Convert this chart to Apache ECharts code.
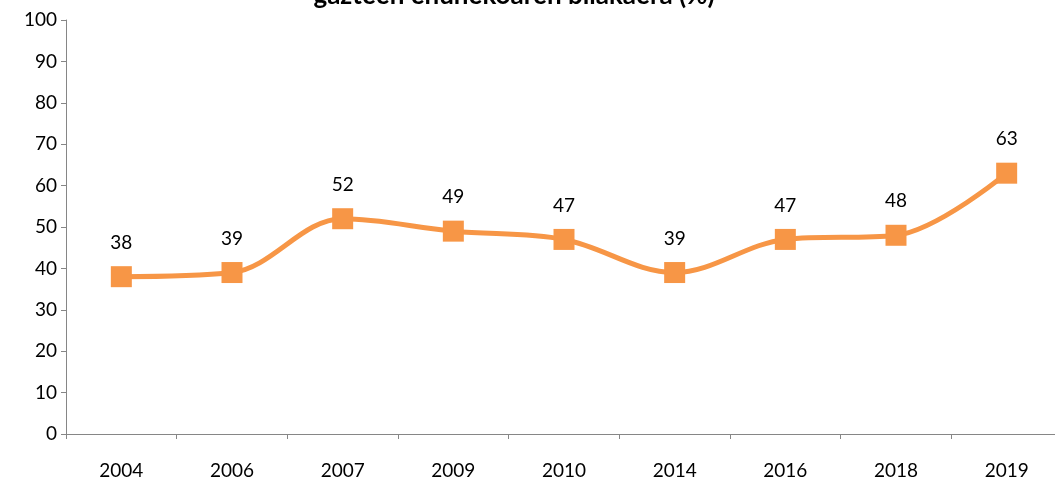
<!DOCTYPE html>
<html><head><meta charset="utf-8">
<script src="https://cdn.jsdelivr.net/npm/echarts@6/dist/echarts.min.js"></script>
<style>html,body{margin:0;padding:0;background:#fff;overflow:hidden}#c{width:1062px;height:483px}</style>
</head><body><div id="c"></div>
<script>
const categories = ['2004','2006','2007','2009','2010','2014','2016','2018','2019'];
const values = [38, 39, 52, 49, 47, 39, 47, 48, 63];
const yTicks = [0, 10, 20, 30, 40, 50, 60, 70, 80, 90, 100];
const titleText = 'gazteen ehunekoaren bilakaera (%)';

const chart = echarts.init(document.getElementById('c'));
const font = 'Lato, "Open Sans", sans-serif';
chart.setOption({
  animation: false,
  title: {
    text: titleText, left: 514, textAlign: 'center', top: -17, padding: 0,
    textStyle: { fontFamily: font, fontWeight: 'bold', fontSize: 26, color: '#000' }
  },
  grid: { left: 66, right: 0, top: 20, bottom: 49 },
  xAxis: {
    type: 'category', data: categories, boundaryGap: true,
    axisLine: { lineStyle: { color: '#868686', width: 1 } },
    axisTick: { show: true, inside: false, length: 5, interval: 0, lineStyle: { color: '#868686' } },
    axisLabel: { color: '#000', fontFamily: font, fontSize: 19, margin: 27 }
  },
  yAxis: {
    type: 'value', min: yTicks[0], max: yTicks[yTicks.length - 1], interval: 10,
    axisLine: { show: true, lineStyle: { color: '#868686', width: 1 } },
    axisTick: { show: true, length: 5, lineStyle: { color: '#868686' } },
    splitLine: { show: false },
    axisLabel: { color: '#000', fontFamily: font, fontSize: 19, margin: 9 }
  },
  series: [{
    type: 'line', data: values, smooth: 0.35,
    symbol: 'rect', symbolSize: 21,
    lineStyle: { color: '#F79646', width: 5 },
    itemStyle: { color: '#F79646' },
    label: { show: true, position: 'top', distance: 14, color: '#000', fontFamily: font, fontSize: 19 }
  }]
});
</script></body></html>
